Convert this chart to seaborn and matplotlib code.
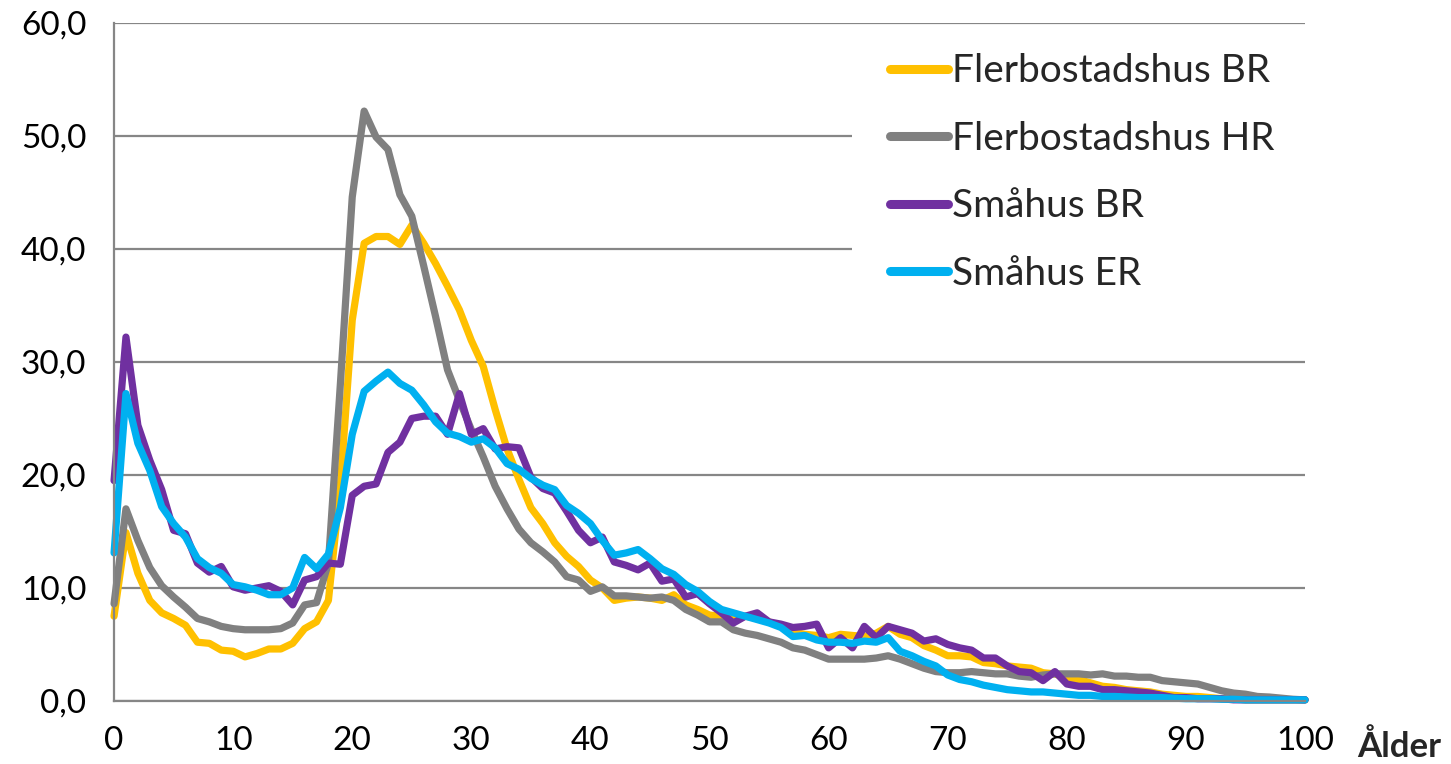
import matplotlib
matplotlib.use('Agg')
import matplotlib.pyplot as plt
import matplotlib.patches as mpatches
from matplotlib.ticker import MultipleLocator, FuncFormatter
import numpy as np
import pandas as pd
import seaborn as sns

# Ages 0..100 on the x axis
ages = np.arange(0, 101)

flerbostadshus_br = [
    7.5, 14.9, 11.3, 8.9, 7.8, 7.3, 6.7, 5.2, 5.1, 4.5,
    4.4, 3.9, 4.2, 4.6, 4.6, 5.1, 6.4, 7.0, 8.9, 19.0,
    33.7, 40.5, 41.1, 41.1, 40.4, 42.1, 40.5, 38.7, 36.7, 34.6,
    31.9, 29.6, 25.8, 22.3, 19.6, 17.1, 15.7, 14.0, 12.8, 11.9,
    10.7, 10.0, 8.9, 9.1, 9.2, 9.1, 8.9, 9.4, 8.5, 8.1,
    7.6, 7.5, 7.2, 7.5, 7.3, 7.0, 6.6, 6.1, 5.9, 5.8,
    5.6, 5.9, 5.8, 5.7, 6.0, 6.6, 5.9, 5.6, 4.9, 4.5,
    4.0, 4.0, 3.9, 3.4, 3.3, 3.1, 3.0, 2.9, 2.5, 2.4,
    2.0, 1.9, 1.6, 1.3, 1.2, 1.0, 0.9, 0.8, 0.6, 0.5,
    0.4, 0.4, 0.3, 0.2, 0.2, 0.1, 0.1, 0.1, 0.1, 0.1,
    0.1,
]

flerbostadshus_hr = [
    8.6, 17.0, 14.2, 11.8, 10.2, 9.2, 8.3, 7.3, 7.0, 6.6,
    6.4, 6.3, 6.3, 6.3, 6.4, 6.9, 8.5, 8.7, 12.2, 28.0,
    44.6, 52.2, 49.9, 48.8, 44.8, 42.9, 38.5, 34.0, 29.3, 26.6,
    24.0, 21.6, 19.0, 17.0, 15.2, 14.0, 13.2, 12.3, 11.0, 10.7,
    9.7, 10.1, 9.3, 9.3, 9.2, 9.1, 9.2, 8.9, 8.1, 7.6,
    7.0, 7.0, 6.3, 6.0, 5.8, 5.5, 5.2, 4.7, 4.5, 4.1,
    3.7, 3.7, 3.7, 3.7, 3.8, 4.0, 3.7, 3.3, 2.9, 2.6,
    2.5, 2.5, 2.6, 2.5, 2.4, 2.4, 2.2, 2.1, 2.3, 2.4,
    2.4, 2.4, 2.3, 2.4, 2.2, 2.2, 2.1, 2.1, 1.8, 1.7,
    1.6, 1.5, 1.2, 0.9, 0.7, 0.6, 0.4, 0.35, 0.25, 0.15,
    0.1,
]

smahus_br = [
    19.5, 32.2, 24.4, 21.3, 18.7, 15.1, 14.8, 12.2, 11.4, 11.9,
    10.1, 9.8, 10.0, 10.2, 9.7, 8.5, 10.7, 11.0, 12.2, 12.1,
    18.2, 19.0, 19.2, 22.0, 22.9, 25.0, 25.2, 25.2, 23.6, 27.2,
    23.6, 24.1, 22.3, 22.5, 22.4, 19.8, 18.8, 18.4, 16.8, 15.1,
    14.0, 14.5, 12.3, 12.0, 11.6, 12.2, 10.6, 10.8, 9.2, 9.5,
    8.6, 7.8, 6.9, 7.5, 7.8, 7.0, 6.8, 6.5, 6.6, 6.8,
    4.7, 5.6, 4.7, 6.6, 5.6, 6.6, 6.3, 6.0, 5.3, 5.5,
    5.0, 4.7, 4.5, 3.8, 3.8, 3.1, 2.6, 2.5, 1.8, 2.6,
    1.5, 1.3, 1.3, 1.0, 1.0, 0.9, 0.8, 0.7, 0.5, 0.3,
    0.3, 0.2, 0.2, 0.2, 0.1, 0.1, 0.1, 0.1, 0.1, 0.1,
    0.1,
]

smahus_er = [
    13.1, 27.2, 22.8, 20.4, 17.2, 15.7, 14.5, 12.6, 11.8, 11.3,
    10.3, 10.1, 9.8, 9.4, 9.4, 10.0, 12.7, 11.7, 13.0, 17.1,
    23.6, 27.4, 28.3, 29.1, 28.1, 27.5, 26.2, 24.7, 23.7, 23.4,
    22.9, 23.2, 22.4, 21.0, 20.5, 19.7, 19.1, 18.7, 17.3, 16.6,
    15.7, 14.2, 12.9, 13.1, 13.4, 12.6, 11.7, 11.2, 10.3, 9.7,
    8.8, 8.1, 7.8, 7.5, 7.2, 6.9, 6.5, 5.7, 5.8, 5.4,
    5.2, 5.2, 5.1, 5.3, 5.2, 5.6, 4.4, 4.0, 3.5, 3.1,
    2.3, 1.9, 1.7, 1.4, 1.2, 1.0, 0.9, 0.8, 0.8, 0.7,
    0.6, 0.5, 0.5, 0.4, 0.4, 0.35, 0.3, 0.3, 0.3, 0.25,
    0.2, 0.2, 0.2, 0.15, 0.15, 0.1, 0.1, 0.1, 0.1, 0.1,
    0.1,
]

series_names = ['Flerbostadshus BR', 'Flerbostadshus HR', 'Småhus BR', 'Småhus ER']
series_colors = ['#FFC000', '#808080', '#7030A0', '#00B0F0']

y_ticks = [0, 10, 20, 30, 40, 50, 60]
x_ticks = [0, 10, 20, 30, 40, 50, 60, 70, 80, 90, 100]

# Build a long table for seaborn
wide = pd.DataFrame({
    'Ålder': ages,
    series_names[0]: flerbostadshus_br,
    series_names[1]: flerbostadshus_hr,
    series_names[2]: smahus_br,
    series_names[3]: smahus_er,
})
df = wide.melt(id_vars='Ålder', var_name='Serie', value_name='Värde')

sns.set_style('white')
plt.rcParams['font.family'] = ['Lato', 'DejaVu Sans']

grid_color = '#868686'

fig, ax = plt.subplots(figsize=(14.51, 7.64), dpi=100)
fig.subplots_adjust(left=0.0786, right=0.8994, top=0.970, bottom=0.0825)

sns.lineplot(data=df, x='Ålder', y='Värde', hue='Serie', hue_order=series_names,
             palette=dict(zip(series_names, series_colors)), linewidth=5.2, ax=ax)

for line in ax.lines:
    line.set_clip_on(False)
    line.set_solid_joinstyle('round')
    line.set_solid_capstyle('round')

ax.set_xlim(0, 100)
ax.set_ylim(0, 60)
ax.set_xticks(x_ticks)
ax.xaxis.set_minor_locator(MultipleLocator(5))
ax.set_yticks(y_ticks)
ax.yaxis.set_major_formatter(FuncFormatter(lambda v, p: ('%.1f' % v).replace('.', ',')))

ax.set_xlabel('')
ax.set_ylabel('')

for side in ['top', 'right']:
    ax.spines[side].set_visible(False)
for side in ['left', 'bottom']:
    ax.spines[side].set_color(grid_color)
    ax.spines[side].set_linewidth(1.6)

ax.tick_params(axis='both', which='both', length=10, width=1.6, color=grid_color,
               labelsize=24, labelcolor='black', direction='out')
ax.tick_params(axis='y', pad=10)
ax.tick_params(axis='x', pad=8)

ax.set_axisbelow(True)
ax.yaxis.grid(True, color=grid_color, linewidth=1.6)
ax.xaxis.grid(False)

# white area behind legend hides the gridlines there
ax.add_patch(mpatches.Rectangle((0.62, 0.56), 0.38, 0.42, transform=ax.transAxes,
                                facecolor='white', edgecolor='none', zorder=1))

handles, labels = ax.get_legend_handles_labels()
for h in handles:
    h.set_linewidth(6.5)
    h.set_solid_capstyle('round')
leg = ax.legend(handles, labels, loc='upper left', bbox_to_anchor=(0.6386, 0.978),
                frameon=False, fontsize=28, handlelength=1.5, handletextpad=0.1,
                labelspacing=0.81, borderaxespad=0)

fig.text(1357 / 1451, 1 - 747 / 764, 'Ålder', fontsize=25, fontweight='bold',
         ha='left', va='center')

fig.savefig('out.png', dpi=100)
